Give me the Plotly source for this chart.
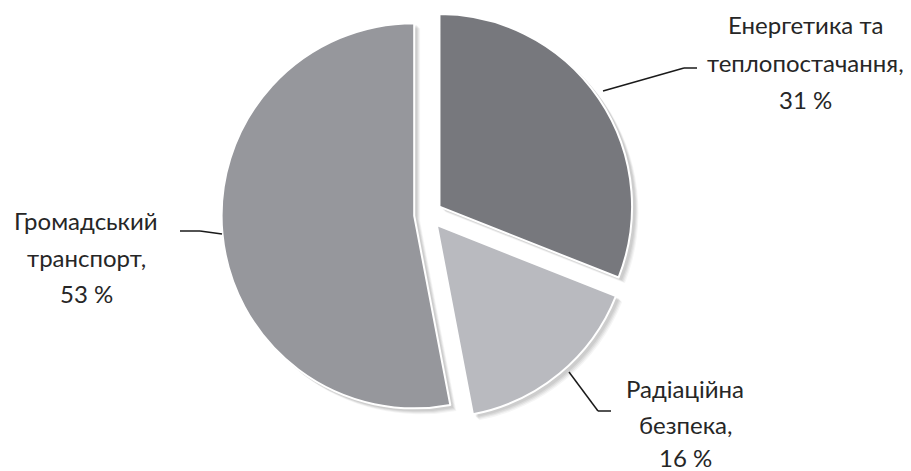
import plotly.graph_objects as go

# ---- data ----
labels = ["Енергетика та теплопостачання", "Радіаційна безпека", "Громадський транспорт"]
label_lines = [["Енергетика та", "теплопостачання,"], ["Радіаційна", "безпека,"], ["Громадський", "транспорт,"]]
values = [31, 16, 53]
colors = ["#77787d", "#b9babf", "#96979c"]

W, H = 911, 471
PAGE_OFF = 8  # default body margin of the html page
def px(x): return (x - PAGE_OFF) / W
def py(y): return 1 - (y - PAGE_OFF) / H
def clamp(v): return min(1.0, max(0.0, v))

# pie geometry (page pixels)
cx, cy, R, pull = 428, 214, 193, 0.072
half = R * (1 + pull)

def dom(off):
    return dict(x=[clamp(px(cx - half + off)), clamp(px(cx + half + off))],
                y=[clamp(py(cy + half + off)), clamp(py(cy - half + off))])

fig = go.Figure()

# soft shadow layers
for off, a in [(6, 0.04), (5, 0.05), (4, 0.06), (3, 0.06)]:
    fig.add_trace(go.Pie(
        labels=labels, values=values, sort=False, direction="clockwise", rotation=0,
        pull=[pull] * 3, textinfo="none", hoverinfo="skip", showlegend=False,
        marker=dict(colors=[f"rgba(0,0,0,{a})"] * 3, line=dict(width=0)),
        domain=dom(off),
    ))

fig.add_trace(go.Pie(
    labels=labels, values=values, sort=False, direction="clockwise", rotation=0,
    pull=[pull] * 3, textinfo="none", hoverinfo="skip", showlegend=False,
    marker=dict(colors=colors, line=dict(color="white", width=2)),
    domain=dom(0),
))

# label layout: (center x, line y positions) in page pixels
label_pos = [(805, [25, 63, 100]), (685, [388, 424, 457]), (86, [220, 257, 293])]
leaders = [
    [(603, 91), (684, 68), (697, 68)],
    [(569, 372), (598, 411), (611, 411)],
    [(222, 234), (200, 231), (180, 231)],
]

font = dict(family="Lato, 'Open Sans', sans-serif", size=24, color="#262626")
annotations = []
for lines, v, (x0, ys) in zip(label_lines, values, label_pos):
    texts = lines + [f"{v} %"]
    for t, y in zip(texts, ys):
        annotations.append(dict(x=px(x0), y=py(y), xref="paper", yref="paper",
                                text=t, showarrow=False, font=font,
                                xanchor="center", yanchor="middle"))

shapes = []
for pts in leaders:
    for (x1, y1), (x2, y2) in zip(pts[:-1], pts[1:]):
        shapes.append(dict(type="line", xref="paper", yref="paper",
                           x0=px(x1), y0=py(y1), x1=px(x2), y1=py(y2),
                           line=dict(color="#1a1a1a", width=1.5)))

fig.update_layout(width=W, height=H, margin=dict(l=0, r=0, t=0, b=0),
                  paper_bgcolor="white", plot_bgcolor="white",
                  annotations=annotations, shapes=shapes, showlegend=False)

fig.write_html("out.html")
